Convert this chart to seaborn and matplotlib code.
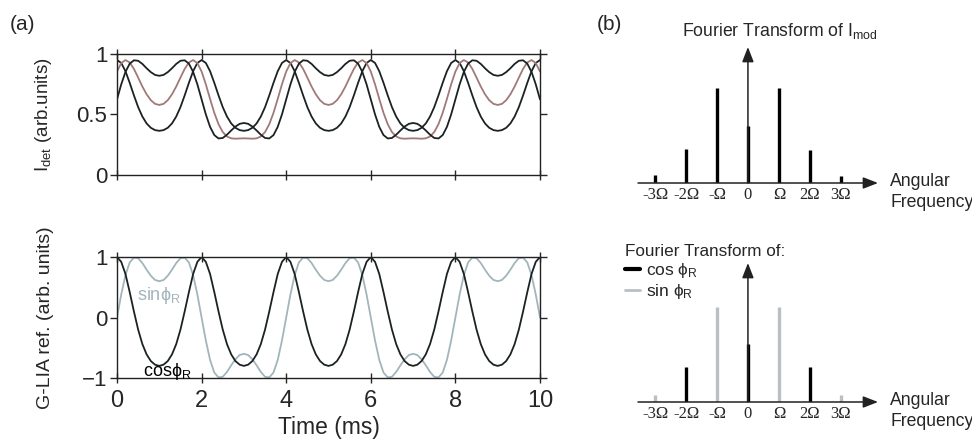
import matplotlib
matplotlib.use('Agg')
import matplotlib.pyplot as plt
import seaborn as sns
import numpy as np
from matplotlib.lines import Line2D

sns.set_style('white')
plt.rcParams['font.family'] = ['Liberation Sans', 'DejaVu Sans']
plt.rcParams['mathtext.fontset'] = 'custom'
plt.rcParams['mathtext.rm'] = 'Liberation Sans'
plt.rcParams['mathtext.it'] = 'Liberation Sans:italic'

# time grid, 0.1 ms steps
t_ms = np.linspace(0, 10, 101)

# (a) detected intensity, three phase settings
i_det_a = [0.950, 0.926, 0.858, 0.762, 0.658, 0.561, 0.483, 0.426, 0.390, 0.371, 0.365,
           0.371, 0.390, 0.426, 0.483, 0.561, 0.658, 0.762, 0.858, 0.926, 0.950,
           0.926, 0.858, 0.762, 0.658, 0.561, 0.483, 0.426, 0.390, 0.371, 0.365,
           0.371, 0.390, 0.426, 0.483, 0.561, 0.658, 0.762, 0.858, 0.926, 0.950,
           0.926, 0.858, 0.762, 0.658, 0.561, 0.483, 0.426, 0.390, 0.371, 0.365,
           0.371, 0.390, 0.426, 0.483, 0.561, 0.658, 0.762, 0.858, 0.926, 0.950,
           0.926, 0.858, 0.762, 0.658, 0.561, 0.483, 0.426, 0.390, 0.371, 0.365,
           0.371, 0.390, 0.426, 0.483, 0.561, 0.658, 0.762, 0.858, 0.926, 0.950,
           0.926, 0.858, 0.762, 0.658, 0.561, 0.483, 0.426, 0.390, 0.371, 0.365,
           0.371, 0.390, 0.426, 0.483, 0.561, 0.658, 0.762, 0.858, 0.926, 0.950]
i_det_b = [0.625, 0.749, 0.852, 0.920, 0.948, 0.944, 0.918, 0.882, 0.850, 0.827, 0.820,
           0.827, 0.850, 0.882, 0.918, 0.944, 0.948, 0.920, 0.852, 0.749, 0.625,
           0.501, 0.398, 0.330, 0.302, 0.306, 0.333, 0.368, 0.400, 0.423, 0.430,
           0.423, 0.400, 0.368, 0.333, 0.306, 0.302, 0.330, 0.398, 0.501, 0.625,
           0.749, 0.852, 0.920, 0.948, 0.944, 0.918, 0.882, 0.850, 0.827, 0.820,
           0.827, 0.850, 0.882, 0.918, 0.944, 0.948, 0.920, 0.852, 0.749, 0.625,
           0.501, 0.398, 0.330, 0.302, 0.306, 0.333, 0.368, 0.400, 0.423, 0.430,
           0.423, 0.400, 0.368, 0.333, 0.306, 0.302, 0.330, 0.398, 0.501, 0.625,
           0.749, 0.852, 0.920, 0.948, 0.944, 0.918, 0.882, 0.850, 0.827, 0.820,
           0.827, 0.850, 0.882, 0.918, 0.944, 0.948, 0.920, 0.852, 0.749, 0.625]
i_det_c = [0.855, 0.925, 0.950, 0.930, 0.877, 0.805, 0.731, 0.667, 0.618, 0.588, 0.579,
           0.588, 0.618, 0.667, 0.731, 0.805, 0.877, 0.930, 0.950, 0.925, 0.855,
           0.750, 0.629, 0.514, 0.420, 0.355, 0.318, 0.303, 0.300, 0.302, 0.303,
           0.302, 0.300, 0.303, 0.318, 0.355, 0.420, 0.514, 0.629, 0.750, 0.855,
           0.925, 0.950, 0.930, 0.877, 0.805, 0.731, 0.667, 0.618, 0.588, 0.579,
           0.588, 0.618, 0.667, 0.731, 0.805, 0.877, 0.930, 0.950, 0.925, 0.855,
           0.750, 0.629, 0.514, 0.420, 0.355, 0.318, 0.303, 0.300, 0.302, 0.303,
           0.302, 0.300, 0.303, 0.318, 0.355, 0.420, 0.514, 0.629, 0.750, 0.855,
           0.925, 0.950, 0.930, 0.877, 0.805, 0.731, 0.667, 0.618, 0.588, 0.579,
           0.588, 0.618, 0.667, 0.731, 0.805, 0.877, 0.930, 0.950, 0.925, 0.855]

# (a) G-LIA reference signals
cos_phi = [1.00, 0.92, 0.72, 0.42, 0.10, -0.20, -0.44, -0.61, -0.72, -0.78, -0.80,
           -0.78, -0.72, -0.61, -0.44, -0.20, 0.10, 0.42, 0.72, 0.92, 1.00,
           0.92, 0.72, 0.42, 0.10, -0.20, -0.44, -0.61, -0.72, -0.78, -0.80,
           -0.78, -0.72, -0.61, -0.44, -0.20, 0.10, 0.42, 0.72, 0.92, 1.00,
           0.92, 0.72, 0.42, 0.10, -0.20, -0.44, -0.61, -0.72, -0.78, -0.80,
           -0.78, -0.72, -0.61, -0.44, -0.20, 0.10, 0.42, 0.72, 0.92, 1.00,
           0.92, 0.72, 0.42, 0.10, -0.20, -0.44, -0.61, -0.72, -0.78, -0.80,
           -0.78, -0.72, -0.61, -0.44, -0.20, 0.10, 0.42, 0.72, 0.92, 1.00,
           0.92, 0.72, 0.42, 0.10, -0.20, -0.44, -0.61, -0.72, -0.78, -0.80,
           -0.78, -0.72, -0.61, -0.44, -0.20, 0.10, 0.42, 0.72, 0.92, 1.00]
sin_phi = [0.00, 0.38, 0.70, 0.91, 0.99, 0.98, 0.90, 0.79, 0.69, 0.62, 0.60,
           0.62, 0.69, 0.79, 0.90, 0.98, 0.99, 0.91, 0.70, 0.38, 0.00,
           -0.38, -0.70, -0.91, -0.99, -0.98, -0.90, -0.79, -0.69, -0.62, -0.60,
           -0.62, -0.69, -0.79, -0.90, -0.98, -0.99, -0.91, -0.70, -0.38, 0.00,
           0.38, 0.70, 0.91, 0.99, 0.98, 0.90, 0.79, 0.69, 0.62, 0.60,
           0.62, 0.69, 0.79, 0.90, 0.98, 0.99, 0.91, 0.70, 0.38, 0.00,
           -0.38, -0.70, -0.91, -0.99, -0.98, -0.90, -0.79, -0.69, -0.62, -0.60,
           -0.62, -0.69, -0.79, -0.90, -0.98, -0.99, -0.91, -0.70, -0.38, 0.00,
           0.38, 0.70, 0.91, 0.99, 0.98, 0.90, 0.79, 0.69, 0.62, 0.60,
           0.62, 0.69, 0.79, 0.90, 0.98, 0.99, 0.91, 0.70, 0.38, 0.00]

# (b) Fourier spectra (relative amplitudes)
harmonics = [-3, -2, -1, 0, 1, 2, 3]
harmonic_labels = ['-3\u03a9', '-2\u03a9', '-\u03a9', '0', '\u03a9', '2\u03a9', '3\u03a9']
ft_imod = [0.08, 0.36, 1.00, 0.60, 1.00, 0.35, 0.07]
cos_harm = [-2, 0, 2]
ft_cos = [0.37, 0.61, 0.37]
sin_harm = [-3, -1, 1, 3]
ft_sin = [0.07, 1.00, 1.00, 0.07]

BLACK = '#1c2222'
BROWN = '#a07a78'
GRAY = '#a3b5bc'
STEM_GRAY = '#b9bfc2'

W, H = 972, 442
fig = plt.figure(figsize=(9.72, 4.42), dpi=100)

def px_axes(x0, x1, ytop, ybot):
    return fig.add_axes([x0 / W, 1 - ybot / H, (x1 - x0) / W, (ybot - ytop) / H])

ax1 = px_axes(117, 540, 54, 175)
ax2 = px_axes(117, 540, 257, 378)

sns.lineplot(x=t_ms, y=i_det_a, ax=ax1, color=BLACK, lw=1.3)
sns.lineplot(x=t_ms, y=i_det_c, ax=ax1, color=BROWN, lw=1.3)
sns.lineplot(x=t_ms, y=i_det_b, ax=ax1, color=BLACK, lw=1.3)

sns.lineplot(x=t_ms, y=sin_phi, ax=ax2, color=GRAY, lw=1.3)
sns.lineplot(x=t_ms, y=cos_phi, ax=ax2, color=BLACK, lw=1.3)

for ax in (ax1, ax2):
    ax.set_xlim(0, 10)
    ax.set_xticks([0, 2, 4, 6, 8, 10])
    for s in ax.spines.values():
        s.set_color('#222222')
        s.set_linewidth(1.0)
    ax.tick_params(axis='y', which='both', left=True, right=True, direction='out',
                   length=5, width=1, labelsize=16, pad=2)
    ax.tick_params(axis='x', which='both', bottom=True, top=True, direction='inout',
                   length=7, width=1)
    ax.yaxis.set_label_coords(-0.15, 0.5)

ax1.set_ylim(0, 1)
ax1.set_yticks([0, 0.5, 1])
ax1.set_yticklabels(['0', '0.5', '1'])
ax1.tick_params(axis='x', labelbottom=False)
ax1.set_ylabel('$\\mathregular{I_{det}}$ (arb.units)', fontsize=13.5)

ax2.set_ylim(-1, 1)
ax2.set_yticks([-1, 0, 1])
ax2.set_yticklabels(['\u22121', '0', '1'])
ax2.tick_params(axis='x', labelsize=17, pad=5)
ax2.set_xlabel('Time (ms)', fontsize=16.5, labelpad=3)
ax2.set_ylabel('G-LIA ref. (arb. units)', fontsize=14)
ax2.text(1.0, 0.36, 'sin$\\mathregular{\\phi_R}$', color=GRAY, fontsize=13,
         ha='center', va='center')
ax2.text(1.2, -0.9, 'cos$\\mathregular{\\phi_R}$', color='black', fontsize=13,
         ha='center', va='center')


def spectrum_axes(ax, ymax):
    ax.set_xlim(-3.55, 4.2)
    ax.set_ylim(0, ymax)
    for s in ax.spines.values():
        s.set_visible(False)
    ax.set_yticks([])
    ax.set_xticks(harmonics)
    ax.set_xticklabels(harmonic_labels, family='Liberation Serif', fontsize=12)
    ax.tick_params(axis='x', length=0, pad=3)
    ax.set_facecolor('none')
    ax.annotate('', xy=(1, 0), xytext=(0, 0), xycoords='axes fraction',
                arrowprops=dict(arrowstyle='-|>,head_length=0.9,head_width=0.35',
                                color='#222222', lw=1.1, shrinkA=0, shrinkB=0))
    ax.annotate('', xy=(0, ymax), xytext=(0, 0), xycoords='data',
                arrowprops=dict(arrowstyle='-|>,head_length=0.9,head_width=0.35',
                                color='#222222', lw=1.1, shrinkA=0, shrinkB=0),
                annotation_clip=False)


ax3 = px_axes(638, 878, 47, 183)
spectrum_axes(ax3, 1.43)
ax3.vlines(harmonics, 0, ft_imod, color='black', lw=2.4)

ax4 = px_axes(638, 878, 263, 402)
spectrum_axes(ax4, 1.46)
ax4.vlines(sin_harm, 0, ft_sin, color=STEM_GRAY, lw=2.4)
ax4.vlines(cos_harm, 0, ft_cos, color='black', lw=2.4)

handles = [Line2D([], [], color='black', lw=3),
           Line2D([], [], color=STEM_GRAY, lw=2)]
leg = ax4.legend(handles, ['cos $\\mathregular{\\phi_R}$', 'sin $\\mathregular{\\phi_R}$'],
                 title='Fourier Transform of:', loc='upper left',
                 bbox_to_anchor=(616 / W, 1 - 235 / H), bbox_transform=fig.transFigure,
                 frameon=False, fontsize=12.5, title_fontsize=12.3, borderpad=0,
                 handlelength=0.9, handletextpad=0.3, labelspacing=0.12)
leg._legend_box.align = 'left'

fig.text(682 / W, 1 - 31 / H, 'Fourier Transform of $\\mathregular{I_{mod}}$',
         fontsize=12.7, ha='left', va='center')
for yc in (192, 411):
    fig.text(890 / W, 1 - yc / H, 'Angular\nFrequency', fontsize=12.7,
             ha='left', va='center', linespacing=1.25)

fig.text(10 / W, 1 - 25 / H, '(a)', fontsize=15, ha='left', va='center')
fig.text(597 / W, 1 - 25 / H, '(b)', fontsize=15, ha='left', va='center')

fig.savefig('out.png', dpi=100)
